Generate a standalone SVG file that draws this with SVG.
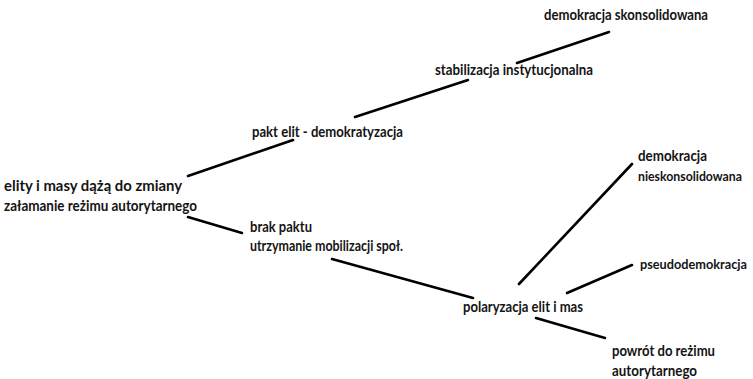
<svg xmlns="http://www.w3.org/2000/svg" width="753" height="379" viewBox="0 0 753 379">
  <style>
    .lbl { font-family: Lato, "Open Sans", "Noto Sans", sans-serif; font-size: 14.5px; font-weight: 700; fill: #141414; }
    .edge-lbl { font-size: 13.2px; }
    .edge { stroke: #000; stroke-width: 2.6; stroke-linecap: round; fill: none; }
  </style>
  <rect width="753" height="379" fill="#fff"/>

  <!-- connectors -->
  <g id="connectors">
    <line class="edge" x1="188" y1="176" x2="293" y2="140"/>
    <line class="edge" x1="355" y1="117" x2="468" y2="80"/>
    <line class="edge" x1="517" y1="63" x2="609" y2="32"/>
    <line class="edge" x1="188" y1="217" x2="242" y2="233"/>
    <line class="edge" x1="332" y1="259" x2="473" y2="298"/>
    <line class="edge" x1="519" y1="284" x2="632" y2="164"/>
    <line class="edge" x1="567" y1="293" x2="632" y2="265"/>
    <line class="edge" x1="536" y1="318" x2="605" y2="338"/>
  </g>

  <!-- nodes -->
  <g id="start">
    <text class="lbl" x="4" y="191" textLength="178" lengthAdjust="spacingAndGlyphs">elity i masy dążą do zmiany</text>
    <text class="lbl" x="4" y="211" textLength="193" lengthAdjust="spacingAndGlyphs">załamanie reżimu autorytarnego</text>
  </g>
  <g id="pakt">
    <text class="lbl" x="252" y="137" textLength="151" lengthAdjust="spacingAndGlyphs">pakt elit - demokratyzacja</text>
  </g>
  <g id="stabilizacja">
    <text class="lbl" x="435" y="75" textLength="158" lengthAdjust="spacingAndGlyphs">stabilizacja instytucjonalna</text>
  </g>
  <g id="skonsolidowana">
    <text class="lbl" x="544" y="20" textLength="164" lengthAdjust="spacingAndGlyphs">demokracja skonsolidowana</text>
  </g>
  <g id="brak-paktu">
    <text class="lbl" x="250" y="232" textLength="62" lengthAdjust="spacingAndGlyphs">brak paktu</text>
    <text class="lbl" x="250" y="251" textLength="153" lengthAdjust="spacingAndGlyphs">utrzymanie mobilizacji społ.</text>
  </g>
  <g id="polaryzacja">
    <text class="lbl" x="463" y="312" textLength="120" lengthAdjust="spacingAndGlyphs">polaryzacja elit i mas</text>
  </g>
  <g id="nieskonsolidowana">
    <text class="lbl" x="638" y="161" textLength="69" lengthAdjust="spacingAndGlyphs">demokracja</text>
    <text class="lbl edge-lbl" x="638" y="181" textLength="104" lengthAdjust="spacingAndGlyphs">nieskonsolidowana</text>
  </g>
  <g id="pseudodemokracja">
    <text class="lbl edge-lbl" x="640" y="269" textLength="107" lengthAdjust="spacingAndGlyphs">pseudodemokracja</text>
  </g>
  <g id="powrot">
    <text class="lbl" x="612" y="356" textLength="103" lengthAdjust="spacingAndGlyphs">powrót do reżimu</text>
    <text class="lbl" x="612" y="376" textLength="85" lengthAdjust="spacingAndGlyphs">autorytarnego</text>
  </g>
</svg>
